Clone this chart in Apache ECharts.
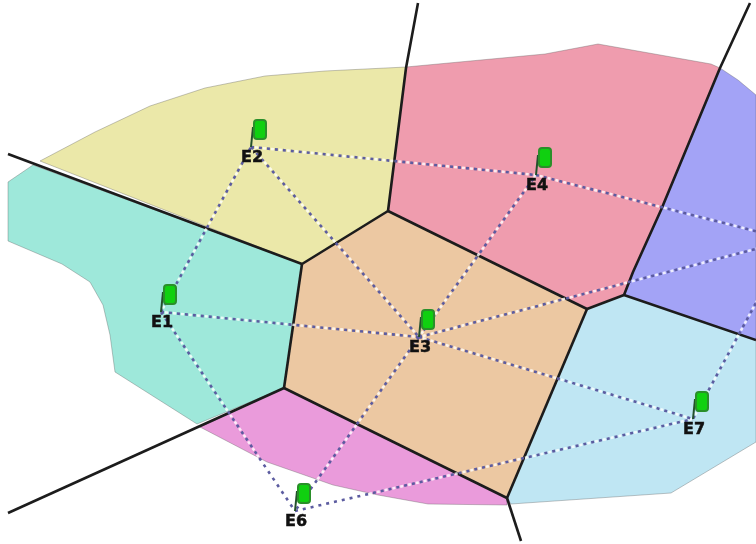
<!DOCTYPE html>
<html>
<head>
<meta charset="UTF-8">
<style>
    html, body { margin: 0; padding: 0; background: #fff; }
    #container { width: 756px; height: 544px; filter: blur(0.6px); }
</style>
<script src="https://cdn.jsdelivr.net/npm/echarts@6/dist/echarts.min.js"></script>
</head>
<body>
<div id="container"></div>
<script>
    // 区域边界，坐标按原图读取
    let yellowCell = [[40, 161], [95, 132], [150, 106], [205, 88], [265, 76], [325, 71], [406, 67], [388, 211], [302, 264]];
    let tealCell = [[8, 182], [33, 165], [302, 264], [284, 388], [197, 424], [115, 372], [110, 335], [103, 305], [90, 282], [62, 264], [8, 241]];
    let pinkCell = [[406, 67], [545, 54], [598, 44], [711, 64], [720, 68], [661, 210], [633, 272], [624, 295], [587, 309], [388, 211]];
    let purpleCell = [[720, 68], [738, 80], [756, 95], [756, 340], [624, 295], [633, 272], [661, 210]];
    let blueCell = [[587, 309], [624, 295], [756, 340], [756, 442], [711, 469], [671, 493], [511, 504], [507, 498]];
    let tanCell = [[302, 264], [388, 211], [587, 309], [507, 498], [284, 388]];
    let magentaCell = [[284, 388], [507, 498], [507, 505], [428, 504], [378, 495], [333, 485], [267, 462], [200, 427]];

    let cells = [yellowCell, tealCell, pinkCell, purpleCell, blueCell, tanCell, magentaCell];
    let cellColors = ['#ebe8a9', '#9ee8da', '#ef9cae', '#a3a3f6', '#bfe6f3', '#ecc8a2', '#ea9bdb'];

    // 黑色分界线
    let borderLines = [
        [[8, 154], [302, 264]],
        [[302, 264], [388, 211]],
        [[388, 211], [406, 68], [418, 3]],
        [[302, 264], [284, 388]],
        [[284, 388], [8, 513]],
        [[284, 388], [507, 498]],
        [[507, 498], [521, 541]],
        [[507, 498], [587, 309]],
        [[388, 211], [587, 309]],
        [[587, 309], [624, 295]],
        [[624, 295], [633, 272], [661, 210], [720, 68], [750, 3]],
        [[624, 295], [756, 340]]
    ];

    // 站点，E5 在画面右侧之外，只用于连线
    let siteNames = ['E1', 'E2', 'E3', 'E4', 'E6', 'E7'];
    let siteX = [161, 251, 419, 536, 295, 693];
    let siteY = [312, 147, 337, 175, 511, 419];
    let offSite = [790, 240];

    let links = [
        ['E1', 'E2'], ['E1', 'E3'], ['E1', 'E6'],
        ['E2', 'E3'], ['E2', 'E4'],
        ['E3', 'E4'], ['E3', 'E5'], ['E3', 'E6'], ['E3', 'E7'],
        ['E4', 'E5'], ['E5', 'E7'], ['E6', 'E7']
    ];

    function sitePoint(name) {
        if (name === 'E5') {
            return offSite;
        }
        let i = siteNames.indexOf(name);
        return [siteX[i], siteY[i]];
    }

    function plainLine(points, style, z) {
        return {
            type: 'line',
            data: points,
            symbol: 'none',
            silent: true,
            z: z,
            lineStyle: style
        };
    }

    let series = [];

    // 彩色区域
    series.push({
        type: 'custom',
        silent: true,
        z: 1,
        data: cells.map(function (cell, i) { return i; }),
        renderItem: function (params, api) {
            let i = api.value(0);
            return {
                type: 'polygon',
                shape: {
                    points: cells[i].map(function (p) { return api.coord(p); })
                },
                style: {
                    fill: cellColors[i],
                    stroke: 'rgba(90,90,90,0.35)',
                    lineWidth: 1
                }
            };
        },
        encode: { x: 0 }
    });

    borderLines.forEach(function (points) {
        series.push(plainLine(points, { color: '#1c1c1c', width: 2.6 }, 2));
    });

    // 虚线连线：白点打底，上面一层深紫点
    links.forEach(function (pair) {
        let points = [sitePoint(pair[0]), sitePoint(pair[1])];
        series.push(plainLine(points, { color: '#ffffff', width: 2.6, opacity: 0.8, type: [3, 5], dashOffset: 4 }, 3));
        series.push(plainLine(points, { color: '#5c5ca0', width: 2.6, type: [3, 5] }, 4));
    });

    // 旗子和标签
    series.push({
        type: 'custom',
        silent: true,
        z: 5,
        data: siteNames.map(function (name, i) { return [siteX[i], siteY[i], name]; }),
        renderItem: function (params, api) {
            let pos = api.coord([api.value(0), api.value(1)]);
            let x = pos[0];
            let y = pos[1];
            return {
                type: 'group',
                children: [{
                    type: 'line',
                    shape: { x1: x, y1: y, x2: x + 2, y2: y - 20 },
                    style: { stroke: '#24502c', lineWidth: 2 }
                }, {
                    type: 'rect',
                    shape: { x: x + 3, y: y - 27, width: 12, height: 19, r: 3 },
                    style: { fill: '#10d010', stroke: '#2a8f2a', lineWidth: 2 }
                }, {
                    type: 'text',
                    style: {
                        x: x + 1,
                        y: y + 11,
                        text: siteNames[params.dataIndex],
                        fill: '#111111',
                        stroke: '#111111',
                        lineWidth: 0.5,
                        font: 'bold 16px "DejaVu Sans"',
                        align: 'center',
                        verticalAlign: 'middle'
                    }
                }]
            };
        },
        encode: { x: 0, y: 1 }
    });

    let myChart = echarts.init(document.getElementById('container'));
    myChart.setOption({
        animation: false,
        backgroundColor: '#ffffff',
        grid: { left: 0, right: 0, top: 0, bottom: 0 },
        xAxis: { type: 'value', min: 0, max: 756, show: false },
        yAxis: { type: 'value', min: 0, max: 544, inverse: true, show: false },
        series: series
    });
</script>
</body>
</html>
